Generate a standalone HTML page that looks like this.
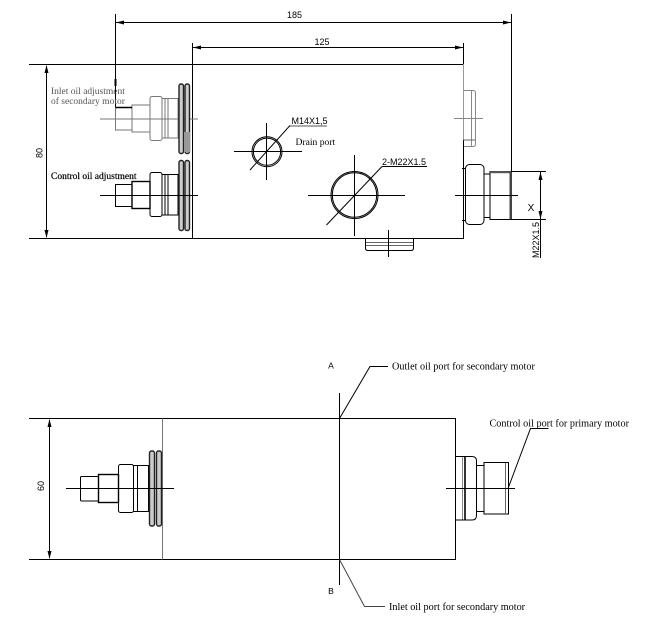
<!DOCTYPE html>
<html>
<head>
<meta charset="utf-8">
<style>
  html,body{margin:0;padding:0;background:#fff;}
  svg{display:block;}
  .sans{font-family:"Liberation Sans",Arial,sans-serif;}
  .serif{font-family:"Liberation Serif","Times New Roman",serif;}
</style>
</head>
<body>
<svg width="650" height="628" viewBox="0 0 650 628" xmlns="http://www.w3.org/2000/svg">
  <rect width="650" height="628" fill="#fff"/>
  <g fill="none" stroke="#000" stroke-width="1">
    <!-- ===== TOP VIEW ===== -->
    <line x1="115.5" y1="22.5" x2="511" y2="22.5"/>
    <line x1="115.5" y1="14" x2="115.5" y2="107"/>
    <line x1="511.5" y1="14" x2="511.5" y2="172"/>
    <line x1="192.5" y1="47.5" x2="463" y2="47.5"/>
    <line x1="192.5" y1="43" x2="192.5" y2="238"/>
    <line x1="463.5" y1="43" x2="463.5" y2="64"/>
    <line x1="29" y1="64.5" x2="464" y2="64.5"/>
    <line x1="29" y1="238.5" x2="464" y2="238.5"/>
    <line x1="463.5" y1="64" x2="463.5" y2="140" stroke="#999"/>
    <line x1="463.5" y1="140" x2="463.5" y2="239"/>
    <line x1="46.5" y1="66" x2="46.5" y2="237"/>

    <!-- upper left fitting -->
    <g stroke="#777">
      <rect x="115.5" y="107.5" width="16.5" height="22.5"/>
      <rect x="132" y="105" width="18" height="27"/>
      <rect x="150" y="96.5" width="12" height="44" rx="2"/>
      <rect x="162" y="98.5" width="16" height="39.5"/>
      <line x1="165" y1="98.5" x2="165" y2="138"/>
      <line x1="168" y1="98.5" x2="168" y2="138"/>
      <line x1="100" y1="119" x2="198" y2="119"/>
    </g>
    <line x1="115.5" y1="107.5" x2="132" y2="107.5" stroke-width="1.5"/>
    <line x1="115.5" y1="79" x2="115.5" y2="86" stroke-width="2"/>
    <rect x="179" y="84" width="4.5" height="69.5" rx="2" fill="#ccc" stroke="#222" stroke-width="1.4"/>
    <rect x="185" y="84" width="4.5" height="69.5" rx="2" fill="#ccc" stroke="#222" stroke-width="1.4"/>
    <rect x="184" y="132" width="6" height="20" fill="#999" stroke="none"/>

    <!-- lower left fitting -->
    <rect x="115.5" y="184.5" width="16.5" height="22"/>
    <rect x="132" y="181.5" width="18" height="27" stroke-width="1.4"/>
    <rect x="150" y="172.5" width="12" height="44" rx="2"/>
    <rect x="162" y="174.5" width="16" height="40.5"/>
    <line x1="165" y1="174.5" x2="165" y2="215"/>
    <line x1="168" y1="174.5" x2="168" y2="215"/>
    <rect x="179" y="160.5" width="4.5" height="70" rx="2" fill="#ccc" stroke="#222" stroke-width="1.4"/>
    <rect x="185" y="160.5" width="4.5" height="70" rx="2" fill="#ccc" stroke="#222" stroke-width="1.4"/>
    <line x1="100" y1="195.5" x2="198" y2="195.5"/>

    <!-- drain port circle -->
    <circle cx="267" cy="151.7" r="15"/>
    <circle cx="267" cy="151.7" r="13.6"/>
    <line x1="234" y1="151.5" x2="302" y2="151.5"/>
    <line x1="266.5" y1="123" x2="266.5" y2="180"/>
    <line x1="250" y1="170" x2="290" y2="125.5"/>
    <line x1="290" y1="126" x2="327" y2="126" stroke="#555"/>

    <!-- big circle -->
    <circle cx="354.5" cy="195" r="23.5"/>
    <circle cx="354.5" cy="195" r="22.2"/>
    <line x1="308" y1="195.5" x2="405" y2="195.5"/>
    <line x1="354.5" y1="155" x2="354.5" y2="236"/>
    <line x1="326.5" y1="225" x2="382" y2="166.5"/>
    <line x1="382" y1="166.5" x2="427" y2="166.5"/>

    <!-- bottom port -->
    <path d="M365.5 238.5 V248 Q365.5 250.5 368 250.5 H411 Q413.5 250.5 413.5 248 V238.5"/>
    <line x1="366" y1="242.5" x2="413" y2="242.5" stroke="#666"/>
    <line x1="366" y1="245.5" x2="413" y2="245.5" stroke="#666"/>
    <line x1="388.5" y1="230" x2="388.5" y2="257"/>

    <!-- right top small port -->
    <g stroke="#888">
      <path d="M464 90.5 H473 Q475.5 90.5 475.5 93 V144 Q475.5 146.5 473 146.5 H464"/>
      <line x1="471.5" y1="91" x2="471.5" y2="146"/>
      <line x1="454" y1="118.5" x2="483" y2="118.5"/>
    </g>
    <line x1="463.5" y1="140" x2="475" y2="140" stroke="#666"/>

    <!-- right primary fitting -->
    <rect x="465.5" y="164.5" width="18.5" height="60" rx="4"/>
    <line x1="462" y1="168.5" x2="466" y2="168.5"/>
    <line x1="462" y1="220.5" x2="466" y2="220.5"/>
    <rect x="484" y="174" width="6" height="43.5"/>
    <rect x="490" y="171.5" width="21.5" height="48"/>
    <rect x="490" y="171" width="21.5" height="2.2" fill="#555" stroke="none"/>
    <rect x="509.5" y="171" width="2.5" height="48.5" fill="#444" stroke="none"/>
    <line x1="455" y1="195.5" x2="518" y2="195.5"/>

    <!-- X dimension -->
    <line x1="511" y1="171.5" x2="546" y2="171.5"/>
    <line x1="511" y1="219.5" x2="546" y2="219.5"/>
    <line x1="540.5" y1="172" x2="540.5" y2="258"/>

    <!-- ===== BOTTOM VIEW ===== -->
    <line x1="29" y1="418.5" x2="456" y2="418.5"/>
    <line x1="29" y1="559.5" x2="456" y2="559.5"/>
    <line x1="162.5" y1="418.5" x2="162.5" y2="559.5" stroke="#777"/>
    <line x1="455.5" y1="418.5" x2="455.5" y2="559.5"/>
    <line x1="49.5" y1="420" x2="49.5" y2="558"/>

    <!-- left fitting -->
    <rect x="80.5" y="476.5" width="18" height="24.5" rx="1"/>
    <rect x="98.5" y="474.5" width="20" height="28" stroke-width="1.4"/>
    <rect x="118.5" y="464.5" width="15" height="48" rx="2"/>
    <rect x="133.5" y="465.5" width="15" height="46"/>
    <line x1="137.5" y1="465.5" x2="137.5" y2="511.5"/>
    <rect x="149.5" y="451" width="5" height="75" rx="2" fill="#ccc" stroke="#222" stroke-width="1.4"/>
    <rect x="156.5" y="451" width="5" height="75" rx="2" fill="#ccc" stroke="#222" stroke-width="1.4"/>
    <line x1="66" y1="488.5" x2="174" y2="488.5"/>

    <!-- section line A-B -->
    <line x1="339.5" y1="393" x2="339.5" y2="585"/>
    <polyline points="339.5,418.5 370,366.5 388,366.5"/>
    <polyline points="339.5,559.5 364.5,606.5 385,606.5" stroke="#444"/>

    <!-- right fitting -->
    <path d="M455.5 456.5 H472 Q476.5 456.5 476.5 461 V515.5 Q476.5 520 472 520 H455.5"/>
    <line x1="465" y1="457" x2="465" y2="519.5" stroke-width="1.6"/>
    <line x1="462.5" y1="457" x2="462.5" y2="519.5" stroke="#888"/>
    <rect x="476.5" y="465.5" width="7.5" height="46"/>
    <rect x="484" y="462.5" width="24.5" height="51.5"/>
    <line x1="505.5" y1="463" x2="505.5" y2="514" stroke="#666"/>
    <line x1="446" y1="488.5" x2="515" y2="488.5"/>
    <polyline points="508,488.5 530.5,428.5 548.5,428.5"/>
  </g>

  <!-- arrowheads -->
  <g fill="#000" stroke="none">
    <polygon points="116,22.5 124,20.5 124,24.5"/>
    <polygon points="511,22.5 503,20.5 503,24.5"/>
    <polygon points="193,47.5 201,45.5 201,49.5"/>
    <polygon points="463,47.5 455,45.5 455,49.5"/>
    <polygon points="46.5,65 44.5,73 48.5,73"/>
    <polygon points="46.5,238 44.5,230 48.5,230"/>
    <polygon points="49.5,419 47.5,427 51.5,427"/>
    <polygon points="49.5,559 47.5,551 51.5,551"/>
    <polygon points="540.5,172 538.5,180 542.5,180"/>
    <polygon points="540.5,219 538.5,211 542.5,211"/>
  </g>

  <!-- text -->
  <g class="sans" fill="#000" font-size="9">
    <text x="294.5" y="18" text-anchor="middle">185</text>
    <text x="322" y="45" text-anchor="middle">125</text>
    <text x="291.5" y="124">M14X1,5</text>
    <text x="382" y="165">2-M22X1.5</text>
    <text transform="translate(42.5,153) rotate(-90)" text-anchor="middle">80</text>
    <text transform="translate(44,486) rotate(-90)" text-anchor="middle">60</text>
    <text x="531" y="211" text-anchor="middle" font-size="10">X</text>
    <text transform="translate(539,240) rotate(-90)" text-anchor="middle">M22X1.5</text>
    <text x="331" y="368.5" text-anchor="middle" font-size="8.5">A</text>
    <text x="331" y="594" text-anchor="middle" font-size="8.5">B</text>
  </g>
  <g class="serif" fill="#000">
    <text x="51" y="94" font-size="9.5" fill="#555">Inlet oil adjustment</text>
    <text x="51" y="104" font-size="9.5" fill="#555">of secondary motor</text>
    <text x="51" y="179" font-size="9.5" stroke="#000" stroke-width="0.2">Control oil adjustment</text>
    <text x="295.5" y="145" font-size="9.6">Drain port</text>
    <text x="392" y="369.5" font-size="10.2">Outlet oil port for secondary motor</text>
    <text x="389" y="610" font-size="10.2">Inlet oil port for secondary motor</text>
    <text x="489.5" y="426.5" font-size="10.2">Control oil port for primary motor</text>
  </g>
</svg>
</body>
</html>
